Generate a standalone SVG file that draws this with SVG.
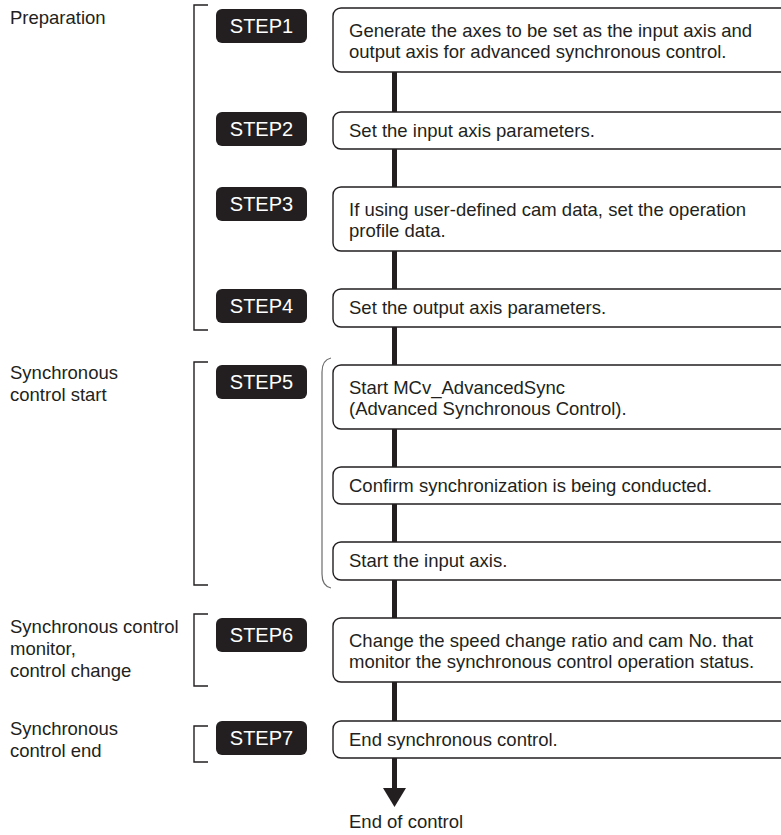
<svg xmlns="http://www.w3.org/2000/svg" width="781" height="835" viewBox="0 0 781 835">
<defs>
<style>
text{font-family:"Liberation Sans",Arial,sans-serif;font-size:18.5px;fill:#231f20}
.box{fill:#fff;stroke:#231f20;stroke-width:1.4}
.badge{fill:#231f20}
.bt{fill:#fff;font-size:20px;text-anchor:middle}
.brk{fill:none;stroke:#231f20;stroke-width:1.4}
.conn{stroke:#231f20;stroke-width:5;fill:none}
</style>
</defs>
<rect width="781" height="835" fill="#fff"/>
<g id="phase-labels">
<text x="10" y="24">Preparation</text>
<text x="10" y="379">Synchronous</text>
<text x="10" y="401">control start</text>
<text x="10" y="633">Synchronous control</text>
<text x="10" y="655">monitor,</text>
<text x="10" y="677">control change</text>
<text x="10" y="735">Synchronous</text>
<text x="10" y="757">control end</text>
</g>
<g id="brackets">
<path class="brk" d="M208 5 H194 V330 H208"/>
<path class="brk" d="M208 362 H194 V585 H208"/>
<path class="brk" d="M208 614 H194 V686 H208"/>
<path class="brk" d="M208 726 H194 V762 H208"/>
<path d="M331 358 Q322 360 322 372 V574 Q322 586 331 588" fill="none" stroke="#6d6d6d" stroke-width="1.2"/>
</g>
<g id="connectors">
<line class="conn" x1="394.5" y1="72" x2="394.5" y2="112"/>
<line class="conn" x1="394.5" y1="149" x2="394.5" y2="187"/>
<line class="conn" x1="394.5" y1="251" x2="394.5" y2="289"/>
<line class="conn" x1="394.5" y1="327" x2="394.5" y2="365"/>
<line class="conn" x1="394.5" y1="429" x2="394.5" y2="467"/>
<line class="conn" x1="394.5" y1="504" x2="394.5" y2="542"/>
<line class="conn" x1="394.5" y1="580" x2="394.5" y2="618"/>
<line class="conn" x1="394.5" y1="682" x2="394.5" y2="721"/>
<line class="conn" x1="394.5" y1="758" x2="394.5" y2="790"/>
<polygon points="383,788 406,788 394.5,807" fill="#231f20"/>
</g>
<g id="step1">
<rect class="badge" x="216" y="9" width="91" height="34" rx="6"/>
<text class="bt" x="261.5" y="33">STEP1</text>
<rect class="box" x="333" y="8" width="470" height="64" rx="8"/>
<text x="349" y="37">Generate the axes to be set as the input axis and</text>
<text x="349" y="58">output axis for advanced synchronous control.</text>
</g>
<g id="step2">
<rect class="badge" x="216" y="112" width="91" height="34" rx="6"/>
<text class="bt" x="261.5" y="136">STEP2</text>
<rect class="box" x="333" y="112" width="470" height="37" rx="8"/>
<text x="349" y="137">Set the input axis parameters.</text>
</g>
<g id="step3">
<rect class="badge" x="216" y="187" width="91" height="34" rx="6"/>
<text class="bt" x="261.5" y="211">STEP3</text>
<rect class="box" x="333" y="187" width="470" height="64" rx="8"/>
<text x="349" y="216">If using user-defined cam data, set the operation</text>
<text x="349" y="237">profile data.</text>
</g>
<g id="step4">
<rect class="badge" x="216" y="289" width="91" height="34" rx="6"/>
<text class="bt" x="261.5" y="313">STEP4</text>
<rect class="box" x="333" y="289" width="470" height="38" rx="8"/>
<text x="349" y="314">Set the output axis parameters.</text>
</g>
<g id="step5">
<rect class="badge" x="216" y="365" width="91" height="34" rx="6"/>
<text class="bt" x="261.5" y="389">STEP5</text>
<rect class="box" x="333" y="365" width="470" height="64" rx="8"/>
<text x="349" y="394">Start MCv_AdvancedSync</text>
<text x="349" y="415">(Advanced Synchronous Control).</text>
</g>
<g id="step5b">
<rect class="box" x="333" y="467" width="470" height="37" rx="8"/>
<text x="349" y="492">Confirm synchronization is being conducted.</text>
</g>
<g id="step5c">
<rect class="box" x="333" y="542" width="470" height="38" rx="8"/>
<text x="349" y="567">Start the input axis.</text>
</g>
<g id="step6">
<rect class="badge" x="216" y="618" width="91" height="34" rx="6"/>
<text class="bt" x="261.5" y="642">STEP6</text>
<rect class="box" x="333" y="618" width="470" height="64" rx="8"/>
<text x="349" y="647">Change the speed change ratio and cam No. that</text>
<text x="349" y="668">monitor the synchronous control operation status.</text>
</g>
<g id="step7">
<rect class="badge" x="216" y="721" width="91" height="34" rx="6"/>
<text class="bt" x="261.5" y="745">STEP7</text>
<rect class="box" x="333" y="721" width="470" height="37" rx="8"/>
<text x="349" y="746">End synchronous control.</text>
</g>
<g id="end">
<text x="349" y="828">End of control</text>
</g>
</svg>
